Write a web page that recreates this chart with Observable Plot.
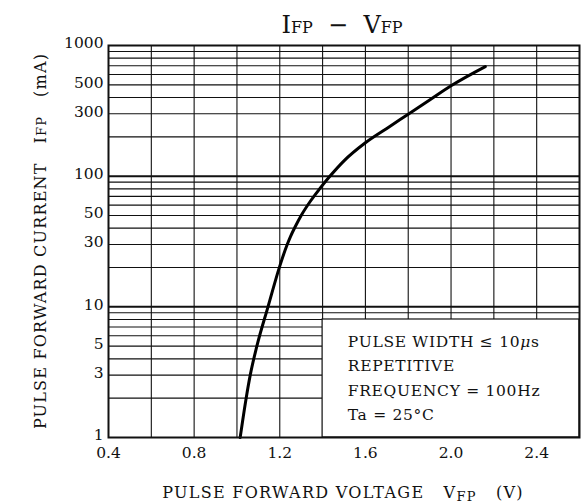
<!DOCTYPE html>
<html><head><meta charset="utf-8">
<script src="https://cdn.jsdelivr.net/npm/d3@7"></script>
<script src="https://cdn.jsdelivr.net/npm/@observablehq/plot@0.6"></script>
<style>body{margin:0;background:#fff}</style>
</head><body><div id="chart"></div>
<script>
const voltage = [1.015, 1.043, 1.062, 1.093, 1.145, 1.2, 1.233, 1.25, 1.272, 1.3, 1.342, 1.385, 1.43, 1.5, 1.6, 1.7, 1.8, 1.9, 2.0, 2.16];
const current = [1, 2, 3, 5, 10, 20.5, 29.5, 34.5, 41, 50, 64, 79.5, 98, 131, 180, 232, 298, 383, 492, 690];
const xTicks = [0.4, 0.8, 1.2, 1.6, 2.0, 2.4];
const xGrid = [0.6, 0.8, 1.0, 1.2, 1.4, 1.6, 1.8, 2.0, 2.2, 2.4];
const yTicks = [1, 3, 5, 10, 30, 50, 100, 300, 500, 1000];
const yDecades = [10, 100];
const yMinor = [2,3,4,5,6,7,8,9,20,30,40,50,60,70,80,90,200,300,400,500,600,700,800,900];
const noteV = [1.4, 2.6];
const noteI = [1, 8];
const noteLines = ["PULSE WIDTH \u2264 10", "REPETITIVE", "FREQUENCY = 100Hz", "Ta = 25\u00B0C"];

const curve = voltage.map((v, i) => ({v, i: current[i]}));
const font = "DejaVu Serif";

const plot = Plot.plot({
  width: 582, height: 504,
  marginLeft: 108, marginRight: 3, marginTop: 45, marginBottom: 67,
  style: {fontFamily: font, fontSize: "16px", color: "#111", background: "#fff"},
  x: {domain: [0.4, 2.6], axis: null},
  y: {type: "log", domain: [1, 1000], axis: null},
  marks: [
    Plot.ruleY(yMinor, {stroke: "#111", strokeWidth: 1.1}),
    Plot.ruleY(yDecades, {stroke: "#111", strokeWidth: 2}),
    Plot.ruleX(xGrid, {stroke: "#111", strokeWidth: 1.1}),
    Plot.rect([{}], {x1: noteV[0], x2: noteV[1], y1: noteI[0], y2: noteI[1], fill: "#fff", stroke: "#111", strokeWidth: 1.2}),
    Plot.line(curve, {x: "v", y: "i", stroke: "#000", strokeWidth: 3, curve: "monotone-x"}),
    Plot.frame({stroke: "#111", strokeWidth: 2}),
    Plot.text(xTicks, {x: d => d, frameAnchor: "bottom", dy: 20, text: d => d.toFixed(1), fontSize: 15.5, fill: "#111"}),
    Plot.text(yTicks, {y: d => d, frameAnchor: "left", dx: -5, dy: -2, textAnchor: "end", text: d => String(d), fontSize: 15.5, fill: "#111"})
  ]
});
document.getElementById("chart").appendChild(plot);

const svg = d3.select(plot);
const sx = plot.scale("x"), sy = plot.scale("y");

// Title
const t = svg.append("text").attr("x", 342).attr("y", 33).attr("text-anchor", "middle")
  .attr("font-family", font).attr("font-size", 24).attr("fill", "#111");
t.append("tspan").text("I");
t.append("tspan").attr("font-size", 16).text("FP");
t.append("tspan").text("  \u2212  V");
t.append("tspan").attr("font-size", 16).text("FP");

// Y label
const yl = svg.append("text").attr("transform", "translate(46,241) rotate(-90)").attr("text-anchor", "middle")
  .attr("font-family", font).attr("font-size", 16).attr("letter-spacing", 1.2).attr("fill", "#111");
yl.append("tspan").text("PULSE FORWARD CURRENT   I");
yl.append("tspan").attr("font-size", 13).text("FP");
yl.append("tspan").text("   (mA)");

// X label
const xl = svg.append("text").attr("x", 343).attr("y", 498).attr("text-anchor", "middle")
  .attr("font-family", font).attr("font-size", 16).attr("letter-spacing", 1.3).attr("fill", "#111");
xl.append("tspan").text("PULSE FORWARD VOLTAGE   V");
xl.append("tspan").attr("font-size", 13).attr("dy", 3).text("FP");
xl.append("tspan").attr("dy", -3).text("   (V)");

// Note text
const nx = sx.apply(1.52);
const nyTop = sy.apply(noteI[1]);
noteLines.forEach((line, k) => {
  const tx = svg.append("text").attr("x", nx).attr("y", nyTop + 28 + k * 24.5).attr("text-anchor", "start")
    .attr("font-family", font).attr("font-size", 15.5).attr("letter-spacing", 0.7).attr("fill", "#111");
  tx.append("tspan").text(line);
  if (k === 0) {
    tx.append("tspan").attr("font-style", "italic").text("\u03BC");
    tx.append("tspan").text("s");
  }
});
</script></body></html>
